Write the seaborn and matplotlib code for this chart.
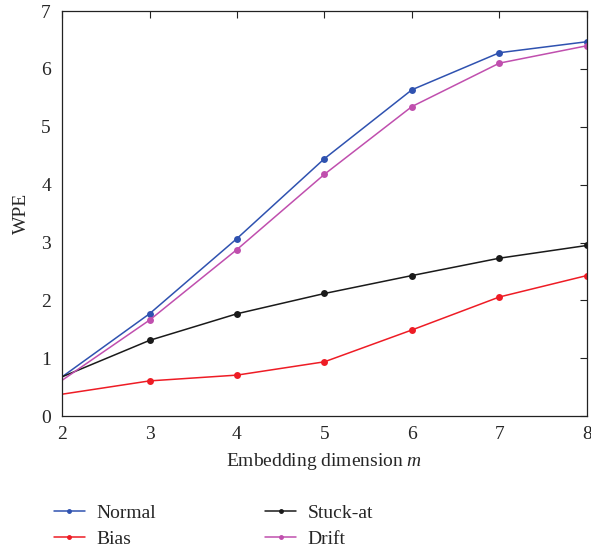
import numpy as np
import pandas as pd
import matplotlib
matplotlib.use('Agg')
import matplotlib.pyplot as plt
import seaborn as sns

# data
m_values = [2, 3, 4, 5, 6, 7, 8]
normal = [0.68, 1.77, 3.07, 4.45, 5.64, 6.28, 6.47]
bias = [0.38, 0.61, 0.71, 0.94, 1.49, 2.06, 2.43]
stuck_at = [0.68, 1.31, 1.77, 2.12, 2.43, 2.73, 2.95]
drift = [0.62, 1.66, 2.88, 4.18, 5.35, 6.10, 6.40]

series_names = ['Normal', 'Bias', 'Stuck-at', 'Drift']
colors = {'Normal': '#2f52b0', 'Bias': '#ee1c25', 'Stuck-at': '#1a1a1a', 'Drift': '#c04fae'}

df = pd.DataFrame({
    'm': m_values * 4,
    'WPE': normal + bias + stuck_at + drift,
    'series': np.repeat(series_names, len(m_values)),
})

sns.set_style('white')
plt.rcParams['font.family'] = ['Liberation Serif', 'DejaVu Serif']
plt.rcParams['mathtext.fontset'] = 'custom'
plt.rcParams['mathtext.it'] = 'Liberation Serif:italic'
plt.rcParams['mathtext.rm'] = 'Liberation Serif'

fig = plt.figure(figsize=(5.91, 5.52), dpi=100)
ax = fig.add_axes([0.105, 0.246, 0.888, 0.734])

sns.lineplot(data=df, x='m', y='WPE', hue='series', hue_order=series_names,
             palette=colors, marker='o', markersize=5, markeredgewidth=0,
             markevery=slice(1, None), linewidth=1.1, ax=ax, legend=False)

ax.set_xlim(2, 8)
ax.set_ylim(0, 7)
ax.set_xticks(m_values)
ax.set_yticks(range(0, 8))
ax.tick_params(direction='in', length=5, width=0.8, labelsize=14,
               top=True, right=True, color='#222222')
ax.tick_params(axis='y', pad=8)
ax.tick_params(axis='x', pad=7)
ax.set_xlabel('Embedding dimension $m$', fontsize=14, labelpad=6)
ax.set_ylabel('WPE', fontsize=14, labelpad=8)
for sp in ax.spines.values():
    sp.set_linewidth(0.9)
    sp.set_color('#222222')

handles = [plt.Line2D([0], [0], color=colors[n], marker='o', markersize=2.5, lw=1.1)
           for n in series_names]
# column-wise fill: Normal, Bias | Stuck-at, Drift
fig.legend(handles, series_names, ncol=2, frameon=False, fontsize=14,
           loc='lower left', bbox_to_anchor=(0.091, 0.008),
           borderpad=0, borderaxespad=0,
           handlelength=1.6, handletextpad=0.6, columnspacing=5.6,
           labelspacing=0.42)

fig.savefig('out.png', dpi=100)
